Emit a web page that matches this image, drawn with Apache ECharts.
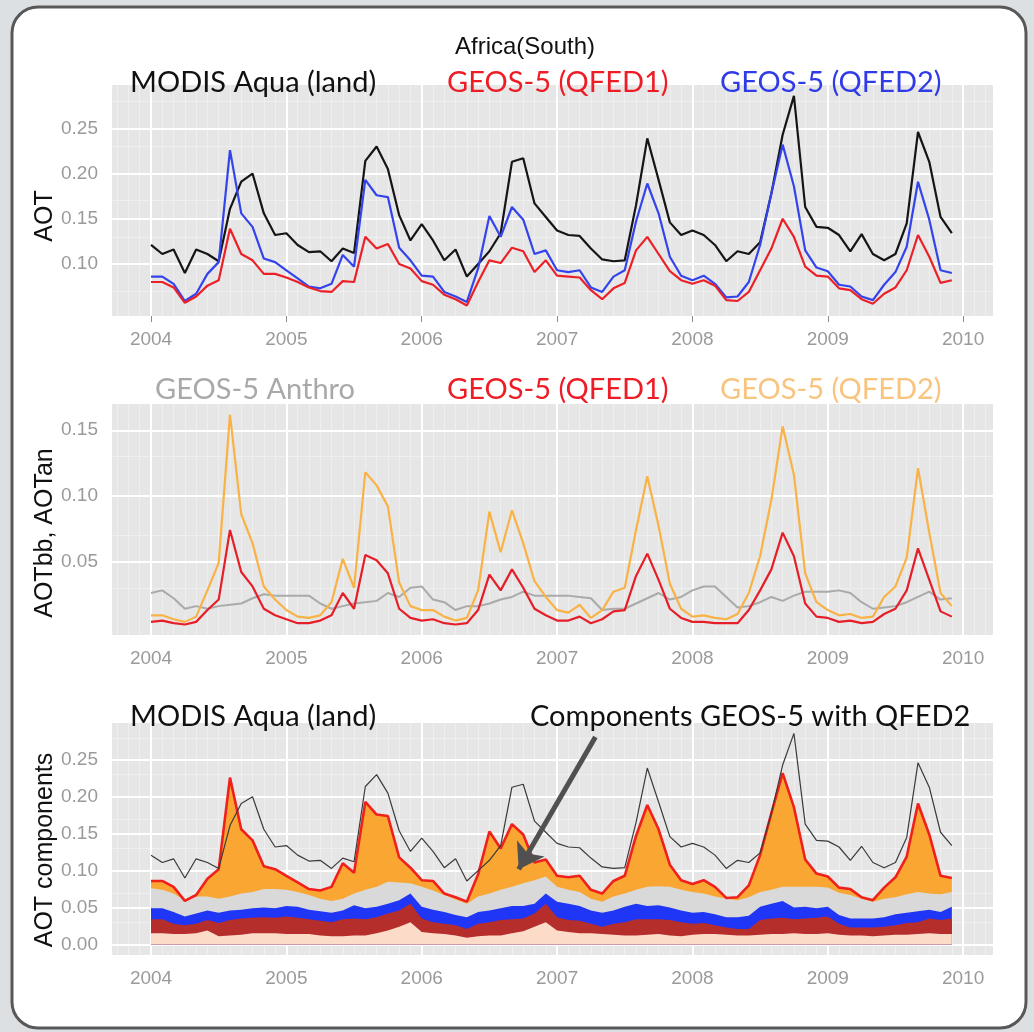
<!DOCTYPE html>
<html>
<head>
<meta charset="utf-8">
<title>Africa(South)</title>
<script src="https://cdn.jsdelivr.net/npm/echarts@6/dist/echarts.min.js"></script>
<style>
html, body { margin: 0; padding: 0; background: #dde0e3; }
#main { width: 1034px; height: 1032px; }
</style>
</head>
<body>
<div id="main"></div>
<script>
// x is month index, 0 = Jan 2004
var yearTicks = [0, 12, 24, 36, 48, 60, 72];

// top panel: AOT
var aotTicks = [0.10, 0.15, 0.20, 0.25];
var modis = [0.121,0.111,0.116,0.090,0.116,0.111,0.103,0.161,0.191,0.200,0.156,0.132,
             0.134,0.121,0.113,0.114,0.103,0.117,0.112,0.214,0.230,0.205,0.154,0.126,
             0.144,0.126,0.104,0.116,0.086,0.100,0.114,0.134,0.213,0.217,0.167,0.152,
             0.137,0.132,0.131,0.117,0.105,0.103,0.104,0.165,0.239,0.193,0.146,0.132,
             0.137,0.132,0.121,0.103,0.114,0.111,0.124,0.178,0.243,0.286,0.163,0.141,
             0.140,0.132,0.114,0.133,0.111,0.104,0.111,0.145,0.246,0.213,0.152,0.134];
var qfed1 = [0.080,0.080,0.074,0.057,0.064,0.076,0.082,0.139,0.111,0.104,0.089,0.089,
             0.085,0.080,0.074,0.070,0.069,0.081,0.080,0.130,0.117,0.122,0.100,0.095,
             0.081,0.077,0.066,0.061,0.054,0.080,0.104,0.101,0.118,0.114,0.091,0.104,
             0.087,0.086,0.085,0.071,0.061,0.073,0.079,0.115,0.130,0.111,0.092,0.082,
             0.078,0.082,0.076,0.060,0.059,0.069,0.093,0.117,0.150,0.130,0.097,0.087,
             0.086,0.073,0.071,0.061,0.056,0.067,0.074,0.093,0.132,0.108,0.079,0.082];
var qfed2 = [0.086,0.086,0.078,0.059,0.067,0.089,0.102,0.226,0.156,0.141,0.106,0.102,
             0.093,0.084,0.075,0.073,0.078,0.110,0.097,0.193,0.176,0.174,0.118,0.104,
             0.087,0.086,0.069,0.064,0.058,0.095,0.153,0.130,0.163,0.149,0.111,0.115,
             0.093,0.091,0.093,0.074,0.069,0.086,0.093,0.147,0.189,0.156,0.108,0.087,
             0.082,0.087,0.078,0.063,0.064,0.080,0.121,0.178,0.232,0.186,0.115,0.096,
             0.092,0.077,0.075,0.064,0.060,0.077,0.091,0.119,0.191,0.149,0.093,0.090];

// middle panel: biomass burning and anthropogenic AOT
var bbTicks = [0.05, 0.10, 0.15];
var anthro = [0.026,0.028,0.022,0.014,0.016,0.014,0.016,0.017,0.018,0.022,0.025,0.024,
              0.024,0.024,0.024,0.018,0.014,0.016,0.018,0.019,0.020,0.026,0.023,0.030,
              0.031,0.021,0.019,0.013,0.016,0.016,0.018,0.021,0.023,0.027,0.024,0.024,
              0.024,0.024,0.023,0.022,0.013,0.014,0.014,0.018,0.022,0.026,0.021,0.023,
              0.028,0.031,0.031,0.023,0.015,0.016,0.019,0.023,0.020,0.024,0.027,0.027,
              0.027,0.028,0.026,0.019,0.014,0.015,0.016,0.019,0.023,0.027,0.021,0.022];
var bbQfed1 = [0.004,0.005,0.003,0.002,0.004,0.013,0.021,0.074,0.042,0.031,0.014,0.009,
               0.006,0.003,0.003,0.005,0.009,0.026,0.014,0.055,0.051,0.041,0.014,0.007,
               0.005,0.006,0.003,0.002,0.003,0.013,0.040,0.028,0.044,0.030,0.014,0.009,
               0.005,0.005,0.008,0.003,0.006,0.012,0.013,0.039,0.056,0.036,0.014,0.007,
               0.004,0.004,0.003,0.003,0.003,0.013,0.028,0.044,0.072,0.054,0.018,0.008,
               0.007,0.004,0.005,0.003,0.004,0.010,0.014,0.028,0.060,0.036,0.012,0.008];
var bbQfed2 = [0.009,0.009,0.006,0.004,0.008,0.028,0.049,0.162,0.086,0.064,0.031,0.021,
               0.013,0.008,0.007,0.009,0.019,0.052,0.030,0.118,0.108,0.092,0.034,0.016,
               0.013,0.013,0.008,0.005,0.007,0.028,0.088,0.057,0.089,0.064,0.035,0.023,
               0.013,0.011,0.017,0.007,0.013,0.027,0.030,0.074,0.115,0.077,0.033,0.014,
               0.008,0.009,0.007,0.006,0.010,0.026,0.054,0.097,0.153,0.116,0.041,0.019,
               0.013,0.009,0.010,0.007,0.008,0.023,0.031,0.053,0.121,0.072,0.026,0.016];

// bottom panel: upper edge of each stacked component (total = qfed2)
var compTicks = [0.00, 0.05, 0.10, 0.15, 0.20, 0.25];
var topPeach = [0.015,0.015,0.014,0.014,0.015,0.019,0.011,0.012,0.013,0.015,0.015,0.015,
                0.014,0.014,0.014,0.012,0.011,0.011,0.012,0.012,0.015,0.019,0.024,0.030,
                0.017,0.015,0.014,0.012,0.009,0.011,0.012,0.012,0.015,0.018,0.024,0.030,
                0.019,0.017,0.015,0.015,0.014,0.013,0.012,0.012,0.013,0.014,0.012,0.011,
                0.013,0.014,0.014,0.013,0.012,0.012,0.013,0.014,0.014,0.015,0.014,0.014,
                0.015,0.013,0.012,0.012,0.011,0.012,0.013,0.013,0.014,0.015,0.014,0.014];
var topDarkRed = [0.034,0.034,0.028,0.026,0.028,0.033,0.029,0.033,0.035,0.036,0.037,0.036,
                  0.038,0.036,0.034,0.032,0.030,0.034,0.035,0.034,0.037,0.042,0.046,0.055,
                  0.035,0.030,0.028,0.026,0.021,0.028,0.030,0.033,0.034,0.035,0.042,0.055,
                  0.037,0.033,0.032,0.028,0.024,0.028,0.030,0.034,0.034,0.034,0.033,0.030,
                  0.028,0.029,0.026,0.023,0.021,0.021,0.033,0.035,0.036,0.034,0.035,0.036,
                  0.038,0.028,0.023,0.023,0.023,0.024,0.026,0.029,0.030,0.035,0.033,0.035];
var topBlue = [0.049,0.049,0.044,0.038,0.042,0.046,0.043,0.046,0.047,0.049,0.050,0.049,
               0.052,0.051,0.047,0.045,0.043,0.046,0.053,0.049,0.051,0.055,0.060,0.069,
               0.051,0.047,0.044,0.040,0.037,0.044,0.046,0.049,0.052,0.052,0.055,0.069,
               0.058,0.055,0.052,0.046,0.043,0.046,0.051,0.055,0.052,0.053,0.050,0.046,
               0.043,0.044,0.041,0.037,0.037,0.039,0.051,0.055,0.059,0.050,0.051,0.049,
               0.051,0.040,0.035,0.035,0.035,0.037,0.041,0.043,0.045,0.047,0.044,0.051];
var topGrey = [0.076,0.074,0.069,0.060,0.065,0.065,0.062,0.065,0.069,0.071,0.075,0.075,
               0.074,0.071,0.067,0.062,0.059,0.062,0.069,0.074,0.078,0.085,0.084,0.083,
               0.078,0.073,0.067,0.061,0.055,0.065,0.069,0.074,0.078,0.083,0.087,0.092,
               0.078,0.074,0.071,0.062,0.058,0.065,0.069,0.074,0.078,0.079,0.078,0.074,
               0.071,0.069,0.065,0.062,0.060,0.064,0.071,0.074,0.078,0.078,0.078,0.078,
               0.077,0.070,0.067,0.062,0.058,0.062,0.064,0.068,0.071,0.069,0.068,0.071];

var labelFont = 'Lato';
var axisFont = '"Liberation Sans", Arial, sans-serif';

function pairs(arr) {
	return arr.map(function (v, i) { return [i, v]; });
}

function minorOf(ticks, lo, hi, step) {
	// midpoints between major breaks, like ggplot minor grid
	var out = [];
	for (var v = ticks[0] - step / 2; v <= hi; v += step) {
		if (v >= lo) out.push(Math.round(v * 1000) / 1000);
	}
	for (var w = ticks[0] - step / 2 - step; w >= lo; w -= step) {
		out.push(Math.round(w * 1000) / 1000);
	}
	return out;
}

// gridlines drawn as markLines so they can sit exactly on the ggplot breaks
function gridSeries(idx, yMajor, yLo, yHi) {
	var items = [];
	var m;
	for (m = -3; m <= 74; m++) {
		if (m % 12 !== 0) items.push({ xAxis: m, lineStyle: { color: '#efefef', width: 1 } });
	}
	minorOf(yMajor, yLo, yHi, 0.05).forEach(function (v) {
		items.push({ yAxis: v, lineStyle: { color: '#efefef', width: 1 } });
	});
	yearTicks.forEach(function (t) {
		items.push({ xAxis: t, lineStyle: { color: '#ffffff', width: 2 } });
	});
	yMajor.forEach(function (v) {
		items.push({ yAxis: v, lineStyle: { color: '#ffffff', width: 2 } });
	});
	return {
		type: 'line', xAxisIndex: idx, yAxisIndex: idx, data: [], silent: true,
		markLine: {
			silent: true, symbol: 'none', z: 1, animation: false,
			label: { show: false }, emphasis: { disabled: true },
			lineStyle: { type: 'solid' },
			data: items
		}
	};
}

function lineSeries(idx, arr, color, width, z) {
	return {
		type: 'line', xAxisIndex: idx, yAxisIndex: idx, data: pairs(arr),
		showSymbol: false, symbol: 'none', z: z || 3,
		lineStyle: { color: color, width: width },
		emphasis: { disabled: true }
	};
}

function areaSeries(arr, color) {
	return {
		type: 'line', xAxisIndex: 2, yAxisIndex: 2, data: pairs(arr),
		showSymbol: false, symbol: 'none', z: 2,
		lineStyle: { width: 0 },
		areaStyle: { color: color, opacity: 1, origin: 'auto' },
		emphasis: { disabled: true }
	};
}

function makeX(idx) {
	return {
		type: 'value', gridIndex: idx, min: -3.46, max: 74.65,
		axisLine: { show: false },
		splitLine: { show: false },
		axisTick: { show: true, customValues: yearTicks, length: 6, lineStyle: { color: '#8c8c8c' } },
		axisLabel: {
			customValues: yearTicks, margin: 14, color: '#9a9a9a', fontSize: 19, fontFamily: axisFont,
			formatter: function (v) { return String(2004 + Math.round(v / 12)); }
		}
	};
}

function makeY(idx, min, max, ticks) {
	return {
		type: 'value', gridIndex: idx, min: min, max: max,
		axisLine: { show: false },
		splitLine: { show: false },
		axisTick: { show: true, customValues: ticks, length: 6, lineStyle: { color: '#8c8c8c' } },
		axisLabel: {
			customValues: ticks, margin: 14, color: '#9a9a9a', fontSize: 19, fontFamily: axisFont,
			formatter: function (v) { return v.toFixed(2); }
		}
	};
}

// panel captions in the style of the slide
function caption(x, y, s, color) {
	return {
		type: 'text', x: x, y: y, z: 20,
		style: { text: s, fill: color, fontSize: 29, fontFamily: labelFont, textVerticalAlign: 'middle' }
	};
}

function yTitle(y, s) {
	return {
		type: 'text', x: 45, y: y, rotation: Math.PI / 2, z: 20,
		style: { text: s, fill: '#111', fontSize: 25, fontFamily: axisFont, textAlign: 'center', textVerticalAlign: 'middle' }
	};
}

var chart = echarts.init(document.getElementById('main'));
var option = {
	animation: false,
	backgroundColor: '#dde0e3',
	graphic: [
		{ type: 'rect', z: -10, shape: { x: 12, y: 7, width: 1014, height: 1021, r: 26 },
		  style: { fill: '#ffffff', stroke: '#585858', lineWidth: 3 } },
		{ type: 'text', x: 525, y: 47, z: 20,
		  style: { text: 'Africa(South)', fill: '#111', fontSize: 24, fontFamily: axisFont, textAlign: 'center', textVerticalAlign: 'middle' } },
		caption(130, 83, 'MODIS Aqua (land)', '#111'),
		caption(447, 83, 'GEOS-5 (QFED1)', '#ee1c25'),
		caption(720, 83, 'GEOS-5 (QFED2)', '#2f3be6'),
		caption(155, 390, 'GEOS-5 Anthro', '#a9a9a9'),
		caption(447, 390, 'GEOS-5 (QFED1)', '#ee1c25'),
		caption(720, 390, 'GEOS-5 (QFED2)', '#f8c47e'),
		caption(130, 717, 'MODIS Aqua (land)', '#111'),
		caption(530, 717, 'Components GEOS-5 with QFED2', '#111'),
		yTitle(216, 'AOT'),
		yTitle(533, 'AOTbb, AOTan'),
		yTitle(850, 'AOT components')
	],
	grid: [
		{ left: 112, top: 85, width: 881, height: 231, show: true, backgroundColor: '#e6e6e6', borderWidth: 0 },
		{ left: 112, top: 404, width: 881, height: 231, show: true, backgroundColor: '#e6e6e6', borderWidth: 0 },
		{ left: 112, top: 723, width: 881, height: 232, show: true, backgroundColor: '#e6e6e6', borderWidth: 0 }
	],
	xAxis: [makeX(0), makeX(1), makeX(2)],
	yAxis: [
		makeY(0, 0.0424, 0.298, aotTicks),
		makeY(1, -0.006, 0.170, bbTicks),
		makeY(2, -0.0143, 0.300, compTicks)
	],
	series: [
		gridSeries(0, aotTicks, 0.0424, 0.298),
		gridSeries(1, bbTicks, -0.006, 0.170),
		gridSeries(2, compTicks, -0.0143, 0.300),

		lineSeries(0, modis, '#151515', 2.2),
		lineSeries(0, qfed2, '#3444ec', 2.2),
		lineSeries(0, qfed1, '#ec2027', 2.2),

		lineSeries(1, anthro, '#aaaaaa', 2),
		lineSeries(1, bbQfed2, '#f9b246', 2.2),
		lineSeries(1, bbQfed1, '#e61e28', 2.2),

		// stacked look: each layer filled down to zero, higher ones drawn first
		areaSeries(qfed2, '#faa632'),
		areaSeries(topGrey, '#d9d9d9'),
		areaSeries(topBlue, '#1f36f6'),
		areaSeries(topDarkRed, '#b62e2c'),
		areaSeries(topPeach, '#fcdcc9'),
		lineSeries(2, qfed2, '#f0201c', 2.6, 4),
		lineSeries(2, modis, '#3a3a3a', 1.2, 5),
		{
			type: 'line', xAxisIndex: 2, yAxisIndex: 2, data: [], silent: true,
			markLine: {
				silent: true, z: 10, animation: false, symbol: ['none', 'arrow'], symbolSize: 24,
				label: { show: false }, emphasis: { disabled: true },
				lineStyle: { color: '#505050', width: 5, type: 'solid' },
				data: [[{ coord: [39.4, 0.281] }, { coord: [32.6, 0.102] }]]
			}
		}
	]
};
chart.setOption(option);
</script>
</body>
</html>
